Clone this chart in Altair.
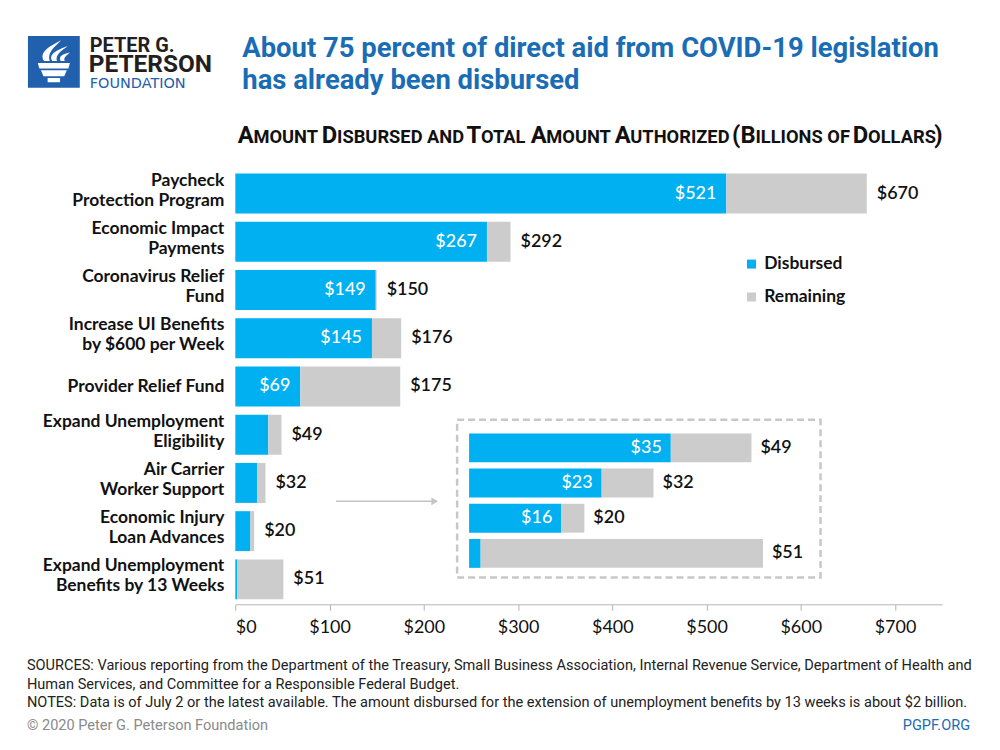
import altair as alt
import pandas as pd

# ---------------- data ----------------
programs = [
    "Paycheck Protection Program",
    "Economic Impact Payments",
    "Coronavirus Relief Fund",
    "Increase UI Benefits by $600 per Week",
    "Provider Relief Fund",
    "Expand Unemployment Eligibility",
    "Air Carrier Worker Support",
    "Economic Injury Loan Advances",
    "Expand Unemployment Benefits by 13 Weeks",
]
row_labels = [
    "Paycheck\nProtection Program",
    "Economic Impact\nPayments",
    "Coronavirus Relief\nFund",
    "Increase UI Benefits\nby $600 per Week",
    "Provider Relief Fund",
    "Expand Unemployment\nEligibility",
    "Air Carrier\nWorker Support",
    "Economic Injury\nLoan Advances",
    "Expand Unemployment\nBenefits by 13 Weeks",
]
disbursed = [521, 267, 149, 145, 69, 35, 23, 16, 2]
authorized = [670, 292, 150, 176, 175, 49, 32, 20, 51]
inset_programs = programs[5:]
x_ticks = [0, 100, 200, 300, 400, 500, 600, 700]
series = ["Disbursed", "Remaining"]
series_colors = ["#00b0f0", "#cccccc"]

title_lines = ["About 75 percent of direct aid from COVID-19 legislation",
               "has already been disbursed"]
subtitle = "Amount Disbursed and Total Amount Authorized (Billions of Dollars)"
footer_lines = [
    "SOURCES: Various reporting from the Department of the Treasury, Small Business Association, Internal Revenue Service, Department of Health and",
    "Human Services, and Committee for a Responsible Federal Budget.",
    "NOTES: Data is of July 2 or the latest available. The amount disbursed for the extension of unemployment benefits by 13 weeks is about $2 billion.",
]
copyright_text = "\u00a9 2020 Peter G. Peterson Foundation"
site_text = "PGPF.ORG"

# ---------------- tables ----------------
rows = []
for p, d, t in zip(programs, disbursed, authorized):
    rows.append(dict(program=p, series="Disbursed", start=0, end=d))
    rows.append(dict(program=p, series="Remaining", start=d, end=t))
seg = pd.DataFrame(rows)
prog = pd.DataFrame(dict(program=programs, label=row_labels, disbursed=disbursed,
                         total=authorized,
                         nlines=[s.count("\n") + 1 for s in row_labels],
                         dtext=["$%d" % v for v in disbursed],
                         ttext=["$%d" % v for v in authorized]))
seg_in = seg[seg.program.isin(inset_programs)]
prog_in = prog[prog.program.isin(inset_programs)]
one = pd.DataFrame({"k": [0]})

# ---------------- layout constants ----------------
W, H = 709, 437
OX, OY = 236, 168          # plot origin on the page
HEAD = "Roboto"
BODY = "Lato"
BLUE_T = "#1a6db5"

xs = alt.Scale(domain=[0, 750], nice=False, zero=True)
ys = alt.Scale(domain=programs, paddingInner=0.172, paddingOuter=0.103)
color = alt.Color(
    "series:N",
    scale=alt.Scale(domain=series, range=series_colors),
    legend=alt.Legend(title=None, orient="none", legendX=509, legendY=87,
                      symbolType="square", symbolSize=81, symbolStrokeWidth=0,
                      labelFontSize=17.5, labelFont=BODY, labelFontWeight="bold",
                      labelColor="#111111", rowPadding=14, labelOffset=4, padding=0),
)
Y = alt.Y("program:N", scale=ys, axis=None, sort=None)

bars = alt.Chart(seg).mark_bar().encode(
    y=Y,
    x=alt.X("start:Q", scale=xs, title=None,
            axis=alt.Axis(values=x_ticks, labelExpr="'$' + datum.value", grid=False,
                          domainColor="#b5b5b5", tickColor="#b5b5b5", tickSize=6,
                          labelFontSize=18, labelFont=BODY, labelColor="#111111",
                          labelPadding=8)),
    x2="end:Q",
    color=color,
)
inner = alt.Chart(prog).transform_filter("datum.disbursed >= 60").mark_text(
    align="right", baseline="middle", dx=-10, color="white", fontSize=18,
    font=BODY, fontWeight=500).encode(y=Y, x=alt.X("disbursed:Q", scale=xs), text="dtext:N")
totals = alt.Chart(prog).mark_text(
    align="left", baseline="middle", dx=10, color="#111111", fontSize=18,
    font=BODY, fontWeight=600).encode(y=Y, x=alt.X("total:Q", scale=xs), text="ttext:N")
labels2 = alt.Chart(prog).transform_filter("datum.nlines == 2").mark_text(
    align="right", baseline="middle", lineBreak="\n", fontSize=17.5, font=BODY,
    fontWeight="bold", lineHeight=20, color="#111111", dy=-13).encode(
    y=Y, x=alt.value(-11), text="label:N")
labels1 = alt.Chart(prog).transform_filter("datum.nlines == 1").mark_text(
    align="right", baseline="middle", fontSize=17.5, font=BODY,
    fontWeight="bold", color="#111111", dy=1).encode(
    y=Y, x=alt.value(-11), text="label:N")

# ---------------- decorations ----------------
def txt(s, x, y, size, colr="#111111", font=BODY, weight="normal", align="left"):
    return alt.Chart(one).mark_text(
        text=s, align=align, baseline="alphabetic", fontSize=size, font=font,
        fontWeight=weight, color=colr).encode(x=alt.value(x), y=alt.value(y))

deco = []
# dashed inset frame
deco.append(alt.Chart(one).mark_rect(fillOpacity=0, stroke="#c8c8c8", strokeWidth=2.5,
                                      strokeDash=[7, 4]).encode(
    x=alt.value(222.5), x2=alt.value(587), y=alt.value(252), y2=alt.value(410)))
# arrow
deco.append(alt.Chart(one).mark_rule(color="#c4c4c4", strokeWidth=1.5).encode(
    x=alt.value(101), x2=alt.value(197), y=alt.value(333.7)))
deco.append(alt.Chart(one).mark_point(shape="triangle-right", filled=True, color="#c4c4c4",
                                       size=60, opacity=1).encode(
    x=alt.value(200), y=alt.value(333.7)))
# logo
deco.append(alt.Chart(one).mark_rect(color="#2160ad").encode(
    x=alt.value(28 - OX), x2=alt.value(80 - OX), y=alt.value(35 - OY), y2=alt.value(87 - OY)))
torch = ("M-0.62,0.04 L0.62,0.04 L0.56,0.25 L-0.56,0.25 Z "
         "M-0.50,0.32 L0.50,0.32 L0.40,0.55 L-0.40,0.55 Z "
         "M-0.24,0.62 L0.24,0.62 L0.24,0.78 L-0.24,0.78 Z "
         "M-0.38,-0.04 C-0.58,-0.36 -0.22,-0.58 0.28,-0.84 C0.0,-0.56 -0.26,-0.36 -0.16,-0.04 Z "
         "M-0.06,-0.04 C-0.22,-0.30 0.10,-0.46 0.54,-0.62 C0.26,-0.42 0.04,-0.26 0.12,-0.04 Z "
         "M0.26,-0.04 C0.16,-0.20 0.36,-0.32 0.62,-0.36 C0.46,-0.22 0.36,-0.14 0.42,-0.04 Z")
deco.append(alt.Chart(one).mark_point(shape=torch, filled=True, color="white", size=2704,
                                       opacity=1, strokeWidth=0).encode(
    x=alt.value(54 - OX), y=alt.value(61 - OY)))
deco.append(txt("PETER G.", 90 - OX, 51 - OY, 20, "#231f20", HEAD, "bold"))
deco.append(txt("PETERSON", 89 - OX, 71.5 - OY, 24.5, "#231f20", HEAD, "bold"))
deco.append(txt("FOUNDATION", 90 - OX, 87 - OY, 14.5, "#2160ad", "DejaVu Sans"))
# title
deco.append(txt(title_lines[0], 243 - OX, 56 - OY, 27.5, BLUE_T, HEAD, "bold"))
deco.append(txt(title_lines[1], 243 - OX, 88 - OY, 27.5, BLUE_T, HEAD, "bold"))

# subtitle in small caps: segments laid out from approximate Roboto Bold metrics (em)
MET = dict(A=.658, B=.633, C=.652, D=.642, E=.552, F=.540, G=.680, H=.697, I=.288, J=.552,
           K=.628, L=.533, M=.862, N=.697, O=.675, P=.632, Q=.675, R=.616, S=.603, T=.608,
           U=.649, V=.645, W=.870, X=.628, Y=.610, Z=.592)
MET["("] = .350
MET[")"] = .350
MET[" "] = .244
chars = [(ch.upper(), ch.isupper() or ch in "()") for ch in subtitle]
ratio = 1.3
units = sum(MET[c] * (ratio if b else 1.0) for c, b in chars)
small = 707 / units
bigsz = small * ratio
segs = []
for c, b in chars:
    if segs and segs[-1][1] == b:
        segs[-1][0] += c
    else:
        segs.append([c, b])
xpos = 238.5
for s, b in segs:
    sz = bigsz if b else small
    if s.strip():
        deco.append(txt(s.strip(), xpos + (MET[" "] * sz if s.startswith(" ") else 0) - OX,
                        142 - OY, round(sz, 2), "#111111", HEAD, "bold"))
    xpos += sum(MET[c] for c in s) * sz

# footer
for i, line in enumerate(footer_lines):
    deco.append(txt(line, 27 - OX, 671 + 18.5 * i - OY, 14.6, "#222222", HEAD))
deco.append(txt(copyright_text, 27 - OX, 731 - OY, 14.6, "#8a8a8a", HEAD))
deco.append(txt(site_text, 973 - OX, 731 - OY, 14.6, "#1a6db5", HEAD, align="right"))

main = alt.layer(bars, inner, totals, labels2, labels1, *deco)

# ---------------- inset ----------------
ixs = alt.Scale(domain=[0, 51], range=[234.5, 529.3], nice=False, zero=True)
iys = alt.Scale(domain=inset_programs, range=[262.4, 403.6], paddingInner=0.18, paddingOuter=0.09)
IY = alt.Y("program:N", scale=iys, axis=None, sort=None)
ibars = alt.Chart(seg_in).mark_bar().encode(
    y=IY, x=alt.X("start:Q", scale=ixs, axis=None), x2="end:Q", color=color)
iinner = alt.Chart(prog_in).transform_filter("datum.disbursed >= 10").mark_text(
    align="right", baseline="middle", dx=-9, color="white", fontSize=18,
    font=BODY, fontWeight=500).encode(y=IY, x=alt.X("disbursed:Q", scale=ixs, axis=None), text="dtext:N")
itotals = alt.Chart(prog_in).mark_text(
    align="left", baseline="middle", dx=9, color="#111111", fontSize=18,
    font=BODY, fontWeight=600).encode(y=IY, x=alt.X("total:Q", scale=ixs, axis=None), text="ttext:N")
inset = alt.layer(ibars, iinner, itotals)

chart = alt.layer(main, inset).resolve_scale(x="independent", y="independent").properties(
    width=W, height=H,
    padding={"left": OX - 8, "top": OY - 8, "right": 50, "bottom": 135},
    autosize=alt.AutoSizeParams(type="none"),
    background="white",
).configure_view(stroke=None)

chart.save("out.html", embed_options={"renderer": "svg", "actions": False})
